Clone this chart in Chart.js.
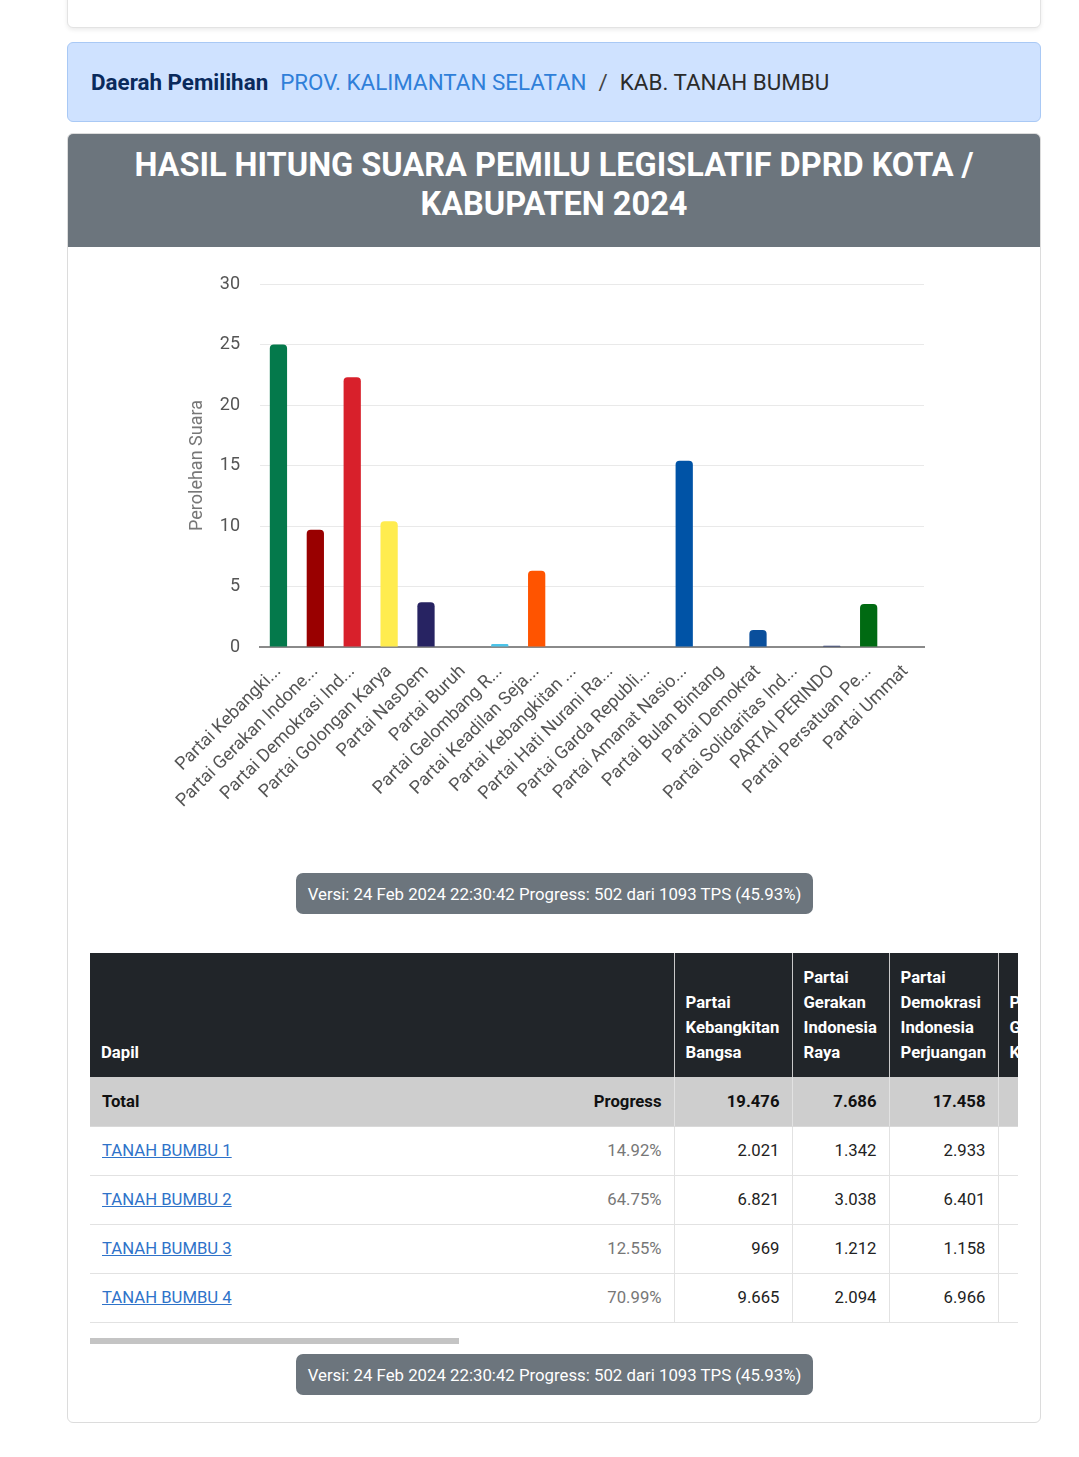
<!DOCTYPE html>
<html>
<head>
<meta charset="utf-8">
<script src="https://cdn.jsdelivr.net/npm/chart.js@4.4.1/dist/chart.umd.min.js"></script>
<style>
  html,body{margin:0;padding:0;background:#fff;font-family:Roboto,"Noto Sans",sans-serif;}
  .abs{position:absolute;box-sizing:border-box;}
  #topcard{left:67px;top:-10px;width:974px;height:38px;background:#fff;border:1px solid #e3e3e3;border-radius:6px;box-shadow:0 2px 4px rgba(0,0,0,0.08);}
  #alert{left:67px;top:42px;width:974px;height:80px;background:#cfe2ff;border:1px solid #a9c9f5;border-radius:6px;padding-left:23px;display:flex;align-items:center;font-size:22.4px;}
  #alert b{color:#0a2a5c;font-weight:700;margin-right:12px;}
  #alert .lnk{color:#2f7fd9;}
  #alert .sep{color:#444;margin:0 12px;}
  #alert .cur{color:#2b2b2b;}
  #card{left:67px;top:133px;width:974px;height:1290px;border:1px solid #dcdcdc;border-radius:6px;overflow:hidden;background:#fff;}
  #hdr{position:absolute;left:0;top:0;width:100%;height:113px;background:#6c757d;color:#fff;font-weight:700;font-size:32.5px;line-height:39px;text-align:center;padding-top:12px;box-sizing:border-box;}
  #chartbox{left:90px;top:250px;width:928px;height:600px;}
  .badge{left:296px;width:517px;height:41px;background:#6c757d;color:#fff;border-radius:7px;font-size:16.8px;display:flex;align-items:center;justify-content:center;}
  #tblwrap{left:90px;top:953px;width:928px;height:370px;overflow:hidden;}
  table{border-collapse:collapse;table-layout:fixed;font-size:16.7px;width:1018px;}
  th{background:#212529;color:#fff;font-weight:700;text-align:left;vertical-align:bottom;line-height:25px;padding:0 10px 12px 11px;height:124px;box-sizing:border-box;border-left:1px solid #c9c9c9;overflow:hidden;white-space:nowrap;}
  th.first{border-left:none;}
  td{height:49px;box-sizing:border-box;padding:0 12px;border-bottom:1px solid #e2e2e2;border-left:1px solid #e2e2e2;text-align:right;color:#222;}
  td.nm{text-align:left;border-left:none;}
  td.pg{border-left:none;color:#777;}
  tr.tot td{background:#cecece;font-weight:700;color:#111;border-bottom:1px solid #d9d9d9;}
  tr.tot td.pg{color:#111;}
  a{color:#2f73c9;text-decoration:underline;}
  #scroll{left:90px;top:1338px;width:369px;height:6px;background:#c4c4c4;}
</style>
</head>
<body>
<div id="topcard" class="abs"></div>
<div id="alert" class="abs"><b>Daerah Pemilihan</b><span class="lnk">PROV. KALIMANTAN SELATAN</span><span class="sep">/</span><span class="cur">KAB. TANAH BUMBU</span></div>
<div id="card" class="abs"><div id="hdr">HASIL HITUNG SUARA PEMILU LEGISLATIF DPRD KOTA /<br>KABUPATEN 2024</div></div>
<div id="chartbox" class="abs"><canvas id="c"></canvas></div>
<div class="abs badge" style="top:873px;">Versi: 24 Feb 2024 22:30:42 Progress: 502 dari 1093 TPS (45.93%)</div>
<div id="tblwrap" class="abs"><table id="tbl"></table></div>
<div id="scroll" class="abs"></div>
<div class="abs badge" style="top:1354px;">Versi: 24 Feb 2024 22:30:42 Progress: 502 dari 1093 TPS (45.93%)</div>

<script>
// ---- chart data ----
const categories = [
  "Partai Kebangkitan Bangsa","Partai Gerakan Indonesia Raya","Partai Demokrasi Indonesia Perjuangan",
  "Partai Golongan Karya","Partai NasDem","Partai Buruh","Partai Gelombang Rakyat Indonesia",
  "Partai Keadilan Sejahtera","Partai Kebangkitan Nusantara","Partai Hati Nurani Rakyat",
  "Partai Garda Republik Indonesia","Partai Amanat Nasional","Partai Bulan Bintang","Partai Demokrat",
  "Partai Solidaritas Indonesia","PARTAI PERINDO","Partai Persatuan Pembangunan","Partai Ummat"
];
const tickLabels = [
  "Partai Kebangki...","Partai Gerakan Indone...","Partai Demokrasi Ind...","Partai Golongan Karya",
  "Partai NasDem","Partai Buruh","Partai Gelombang R...","Partai Keadilan Seja...","Partai Kebangkitan ...",
  "Partai Hati Nurani Ra...","Partai Garda Republi...","Partai Amanat Nasio...","Partai Bulan Bintang",
  "Partai Demokrat","Partai Solidaritas Ind...","PARTAI PERINDO","Partai Persatuan Pe...","Partai Ummat"
];
const voteShare = [25.0, 9.7, 22.3, 10.4, 3.7, 0, 0.25, 6.3, 0, 0, 0, 15.4, 0, 1.4, 0, 0.1, 3.55, 0];
const barColors = [
  "#04794b","#990000","#d8202b","#ffec4f","#272362","#e8e8e8","#4cc4e9","#ff5400","#e8e8e8",
  "#e8e8e8","#e8e8e8","#0053a6","#e8e8e8","#0a4f9c","#e8e8e8","#25356e","#006a12","#e8e8e8"
];
const yTicks = [0, 5, 10, 15, 20, 25, 30];

// ---- table data ----
const dapilNames = ["TANAH BUMBU 1","TANAH BUMBU 2","TANAH BUMBU 3","TANAH BUMBU 4"];
const dapilProgress = ["14.92%","64.75%","12.55%","70.99%"];
const tableParties = ["Partai Kebangkitan Bangsa","Partai Gerakan Indonesia Raya","Partai Demokrasi Indonesia Perjuangan","Partai Golongan Karya"];
const totalVotes = ["19.476","7.686","17.458",""];
const pkbVotes = ["2.021","6.821","969","9.665"];
const gerindraVotes = ["1.342","3.038","1.212","2.094"];
const pdipVotes = ["2.933","6.401","1.158","6.966"];

// build table
(function(){
  const colW = [118, 97, 109, 110];
  let h = '<colgroup><col style="width:292px"><col style="width:292px">';
  colW.forEach(w => h += '<col style="width:'+w+'px">');
  h += '</colgroup><thead><tr><th class="first" colspan="2">Dapil</th>';
  tableParties.forEach(p => h += '<th>' + p.split(' ').join('<br>') + '</th>');
  h += '</tr></thead><tbody><tr class="tot"><td class="nm">Total</td><td class="pg">Progress</td>';
  totalVotes.forEach(v => h += '<td>' + v + '</td>');
  h += '</tr>';
  dapilNames.forEach((n, i) => {
    h += '<tr><td class="nm"><a>' + n + '</a></td><td class="pg">' + dapilProgress[i] + '</td>';
    h += '<td>' + pkbVotes[i] + '</td><td>' + gerindraVotes[i] + '</td><td>' + pdipVotes[i] + '</td><td></td></tr>';
  });
  h += '</tbody>';
  document.getElementById('tbl').innerHTML = h;
})();

Chart.defaults.font.family = "Roboto, 'Noto Sans', sans-serif";
new Chart(document.getElementById('c'), {
  type: 'bar',
  data: {
    labels: categories,
    datasets: [{
      data: voteShare,
      backgroundColor: barColors,
      borderRadius: 4,
      borderSkipped: 'bottom',
      barPercentage: 0.9,
      categoryPercentage: 0.52
    }]
  },
  options: {
    responsive: true,
    maintainAspectRatio: false,
    animation: false,
    layout: { padding: { top: 34, right: 94, bottom: 0, left: 0 } },
    plugins: { legend: { display: false }, tooltip: { enabled: false } },
    scales: {
      x: {
        afterFit: s => { s.height = 203; },
        grid: { display: false },
        border: { display: true, color: '#8a8a8a', width: 2 },
        ticks: {
          autoSkip: false, minRotation: 45, maxRotation: 45, padding: 6,
          color: '#555', font: { size: 18 },
          callback: (v, i) => tickLabels[i]
        }
      },
      y: {
        min: 0, max: 30,
        afterFit: s => { s.width = 170; },
        afterBuildTicks: s => { s.ticks = yTicks.map(v => ({ value: v })); },
        border: { display: false },
        grid: { color: '#e9e9e9', drawTicks: false, lineWidth: 1 },
        ticks: { padding: 20, color: '#555', font: { size: 18 } },
        title: { display: true, text: 'Perolehan Suara', color: '#777', font: { size: 18 }, padding: { top: 97, bottom: 0 } }
      }
    }
  }
});
</script>
</body>
</html>
